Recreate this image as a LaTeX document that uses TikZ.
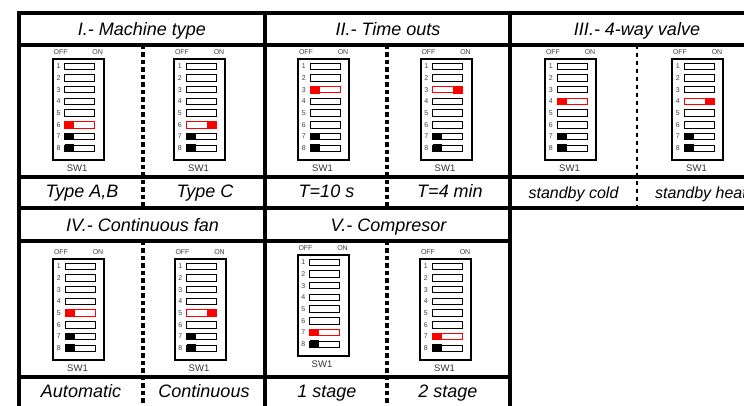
\documentclass[tikz,border=0pt]{standalone}
\usepackage{fontspec}
\setmainfont{Liberation Sans}
\newcommand\dipsw[5]{%
 \begin{scope}[shift={(#2,#3)}]
  \node[dipbody, anchor=north west] (#1) at (0,0) {};
  \node[diplab] (#1-off) at (9,-6) {OFF};
  \node[diplab] (#1-on) at (46,-6) {ON};
  \node[swlab] (#1-sw) at (25.5,110) {SW1};
  \foreach \i in {1,...,8}{
    \pgfmathsetmacro\yy{8.3+(\i-1)*11.7}
    \node[numlab] (#1-n\i) at (6.8,\yy) {\i};
    \ifnum\i=#4\relax
      \draw[swred] (13,{\yy-3.2}) rectangle (43,{\yy+3.2});
      \ifnum#5=0
        \fill[red] (13,{\yy-3.9}) rectangle (22.5,{\yy+3.9});
      \else
        \fill[red] (33.5,{\yy-3.9}) rectangle (43,{\yy+3.9});
      \fi
    \else
      \draw[swoff] (13,{\yy-3.2}) rectangle (43,{\yy+3.2});
      \ifnum\i>6
        \fill[black] (13,{\yy-3.9}) rectangle (22.5,{\yy+3.9});
      \fi
    \fi
  }
 \end{scope}}
\begin{document}
\begin{tikzpicture}[x=1pt,y=-1pt,
  frame/.style={line width=4pt, line cap=rect},
  sep/.style={line width=3.2pt, dash pattern=on 4.5pt off 3pt},
  septhin/.style={line width=2.4pt, dash pattern=on 4.5pt off 3.5pt},
  head/.style={font=\fontsize{18}{20}\selectfont\itshape, anchor=base, inner sep=0pt},
  capthree/.style={font=\fontsize{16}{18}\selectfont\itshape, anchor=base, inner sep=0pt},
  dipbody/.style={draw=black, line width=2pt, fill=white, minimum width=51pt, minimum height=101pt, inner sep=0pt},
  diplab/.style={font=\fontsize{7}{8}\selectfont, text=black!75, inner sep=0pt},
  numlab/.style={font=\fontsize{7}{8}\selectfont, text=black!75, inner sep=0pt},
  swlab/.style={font=\fontsize{9.5}{10}\selectfont, text=black!80, inner sep=0pt},
  swoff/.style={draw=black, line width=0.9pt, fill=white},
  swred/.style={draw=red, line width=0.9pt, fill=white},
]
\useasboundingbox (0,0) rectangle (744,405);
\clip (0,0) rectangle (744,405);
\fill[white] (0,0) rectangle (744,405);
% dashed separators
\draw[sep] (143,44.5) -- (143,207.5);
\draw[sep] (387,44.5) -- (387,207.5);
\draw[septhin] (637,44.5) -- (637,207.5);
\draw[sep] (143,240.5) -- (143,410);
\draw[sep] (387,240.5) -- (387,410);
% DIP switches
\dipsw{d1a}{51.7}{58}{6}{0}
\dipsw{d1b}{173}{58}{6}{1}
\dipsw{d2a}{297}{58}{3}{0}
\dipsw{d2b}{419.5}{58}{3}{1}
\dipsw{d3a}{544}{58}{4}{0}
\dipsw{d3b}{671}{58}{4}{1}
\dipsw{d4a}{52}{258}{5}{0}
\dipsw{d4b}{173.5}{258}{5}{1}
\dipsw{d5a}{296.5}{254}{7}{0}
\dipsw{d5b}{419}{258}{7}{0}
% frame
\draw[frame] (19,13) -- (770,13);
\draw[frame] (19,44.5) -- (770,44.5);
\draw[frame] (19,177) -- (770,177);
\draw[frame] (19,207.5) -- (770,207.5);
\draw[frame] (19,240.5) -- (509.5,240.5);
\draw[frame] (19,377) -- (509.5,377);
\draw[frame] (19,13) -- (19,410);
\draw[frame] (265,13) -- (265,410);
\draw[frame] (509.5,13) -- (509.5,410);
% headers
\node[head] (h1) at (142,35) {I.- Machine type};
\node[head] (h2) at (388,35) {II.- Time outs};
\node[head] (h3) at (637,35) {III.- 4-way valve};
\node[head] (h4) at (142.5,231) {IV.- Continuous fan};
\node[head] (h5) at (388.5,231) {V.- Compresor};
% labels
\node[head] (l1a) at (82,197) {Type A,B};
\node[head] (l1b) at (205,197) {Type C};
\node[head] (l2a) at (326.5,197) {T=10 s};
\node[head] (l2b) at (450,197) {T=4 min};
\node[capthree] (l3a) at (573.5,198) {standby cold};
\node[capthree] (l3b) at (701,198) {standby heat};
\node[head] (l4a) at (81,397) {Automatic};
\node[head] (l4b) at (204,397) {Continuous};
\node[head] (l5a) at (327,397) {1 stage};
\node[head] (l5b) at (448,397) {2 stage};
\end{tikzpicture}
\end{document}
